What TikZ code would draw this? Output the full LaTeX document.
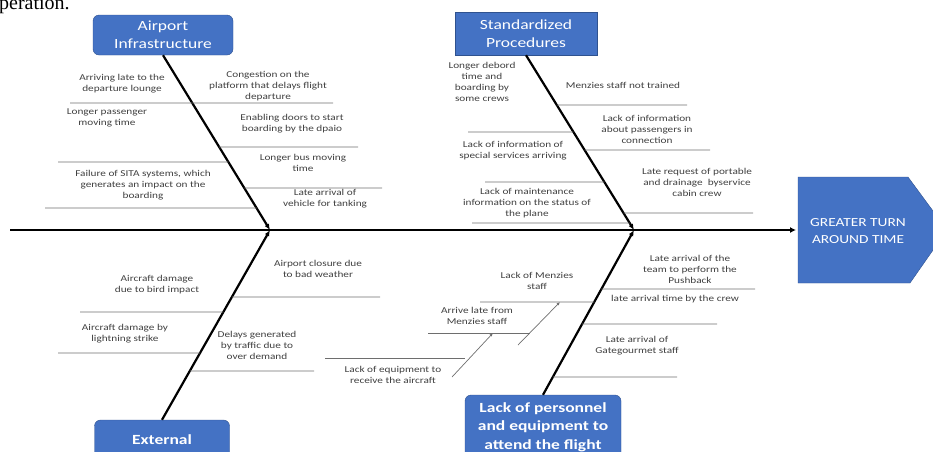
\documentclass[tikz,border=0pt]{standalone}
\usepackage{fontspec}
\setmainfont{Carlito}[FakeStretch=1.25]
\newfontfamily\pagefont{Liberation Serif}
\usetikzlibrary{arrows.meta}

\definecolor{catblue}{RGB}{68,114,196}
\definecolor{catedge}{RGB}{47,82,143}
\definecolor{causetext}{RGB}{64,64,64}
\definecolor{twiggray}{RGB}{110,110,110}

\tikzset{
  category/.style={draw=catedge, fill=catblue, text=white, align=center,
    rounded corners=6pt, font=\fontsize{14}{18}\selectfont},
  cause/.style={text=causetext, align=center, inner sep=0pt,
    font=\fontsize{9}{11}\selectfont},
  spine/.style={line width=2.6pt, -{Latex[length=6pt,width=6pt]}},
  bone/.style={line width=2.2pt, -{Latex[length=6pt,width=5pt]}},
  twig/.style={draw=twiggray, line width=0.7pt},
  subarrow/.style={twig, -{Latex[length=3.5pt,width=3pt]}},
}

\begin{document}
\begin{tikzpicture}[x=1pt,y=-1pt]
    \useasboundingbox (0,0) rectangle (933,451);
    \clip (0,0) rectangle (933,451);
    \node[anchor=base west, inner sep=0pt, font=\pagefont\fontsize{20}{24}\selectfont] (pagetext) at (-1,9) {peration.};

    % head of the fish
    \fill[catblue, draw=catedge] (798,177) -- (908,177) -- (947,230) -- (910,283) -- (798,283) -- cycle;
    \node[text=white, align=center, font=\fontsize{12.3}{17}\selectfont] (head) at (858,231) {GREATER TURN\\AROUND TIME};

    % spine
    \coordinate (tail) at (10,230);
    \coordinate (headin) at (796,230);
    \coordinate (j1) at (270,230);
    \coordinate (j2) at (634,230);
    \draw[spine] (tail) -- (headin);

    % categories
    \node[category, minimum width=140, minimum height=40] (infra) at (163,35) {Airport\\Infrastructure};
    \node[category, sharp corners, minimum width=142, minimum height=43] (std) at (526,33.5) {Standardized\\Procedures};
    \node[category, font=\bfseries\fontsize{14}{18}\selectfont, minimum width=135, minimum height=40] (ext) at (162,440) {External};
    \node[category, font=\bfseries\fontsize{14}{18.5}\selectfont, minimum width=156, minimum height=64] (lack) at (543,427) {Lack of personnel\\and equipment to\\attend the flight};

    \draw[bone] (infra.south) -- (j1);
    \draw[bone] (std.south) -- (j2);
    \draw[bone] (ext.north) -- (j1);
    \draw[bone] (lack.north) -- (j2);

    % airport infrastructure
    \node[cause] (a1) at (122,84) {Arriving late to the\\departure lounge};
    \node[cause] (a2) at (268,86) {Congestion on the\\platform that delays flight\\departure};
    \node[cause] (a3) at (107,118) {Longer passenger\\moving time};
    \node[cause] (a4) at (292,124) {Enabling doors to start\\boarding by the dpaio};
    \node[cause] (a5) at (143,185) {Failure of SITA systems, which\\generates an impact on the\\boarding};
    \node[cause] (a6) at (303,163) {Longer bus moving\\time};
    \node[cause] (a7) at (325,199) {Late arrival of\\vehicle for tanking};
    \foreach \y/\x in {103/70, 103/333, 162/58, 147/358, 208/45, 188/382}
      \draw[twig] (\x,\y) -- (intersection of infra.south--j1 and 0,\y--1,\y);

    % standardized procedures
    \node[cause] (b1) at (482,82) {Longer debord\\time and\\boarding by\\some crews};
    \node[cause] (b2) at (623,85) {Menzies staff not trained};
    \node[cause] (b3) at (513,151) {Lack of information of\\special services arriving};
    \node[cause] (b4) at (647,129) {Lack of information\\about passengers in\\connection};
    \node[cause] (b5) at (527,203) {Lack of maintenance\\information on the status of\\the plane};
    \node[cause] (b6) at (697,182) {Late request of portable\\and drainage\ \ byservice\\cabin crew};
    \foreach \y/\x in {132/468, 182/485, 223/472, 105/687, 150/710, 213/753}
      \draw[twig] (\x,\y) -- (intersection of std.south--j2 and 0,\y--1,\y);

    % external
    \node[cause] (c1) at (157,285) {Aircraft damage\\due to bird impact};
    \node[cause] (c2) at (318,269) {Airport closure due\\to bad weather};
    \node[cause] (c3) at (125,334) {Aircraft damage by\\lightning strike};
    \node[cause] (c4) at (257,345) {Delays generated\\by traffic due to\\over demand};
    \foreach \y/\x in {312/80, 353/58, 297/380, 371/314}
      \draw[twig] (\x,\y) -- (intersection of ext.north--j1 and 0,\y--1,\y);

    % personnel and equipment
    \node[cause] (d1) at (690,269) {Late arrival of the\\team to perform the\\Pushback};
    \node[cause] (d2) at (675,299) {late arrival time by the crew};
    \node[cause] (d3) at (637,346) {Late arrival of\\Gategourmet staff};
    \node[cause] (d4) at (537,281) {Lack of Menzies\\staff};
    \node[cause] (d5) at (477,316) {Arrive late from\\Menzies staff};
    \node[cause] (d6) at (393,375) {Lack of equipment to\\receive the aircraft};
    \foreach \y/\x in {302/480, 289/755, 324/717, 377/677}
      \draw[twig] (\x,\y) -- (intersection of lack.north--j2 and 0,\y--1,\y);
    \draw[twig] (428,333) -- (530,333);
    \draw[twig] (325,358) -- (465,358);

    \coordinate (d4hit) at (560,302);
    \coordinate (d5hit) at (493,333);
    \coordinate (d5foot) at (518,345);
    \coordinate (d6foot) at (452,377);
    \draw[subarrow] (d5foot) -- (d4hit);
    \draw[subarrow] (d6foot) -- (d5hit);
\end{tikzpicture}
\end{document}
